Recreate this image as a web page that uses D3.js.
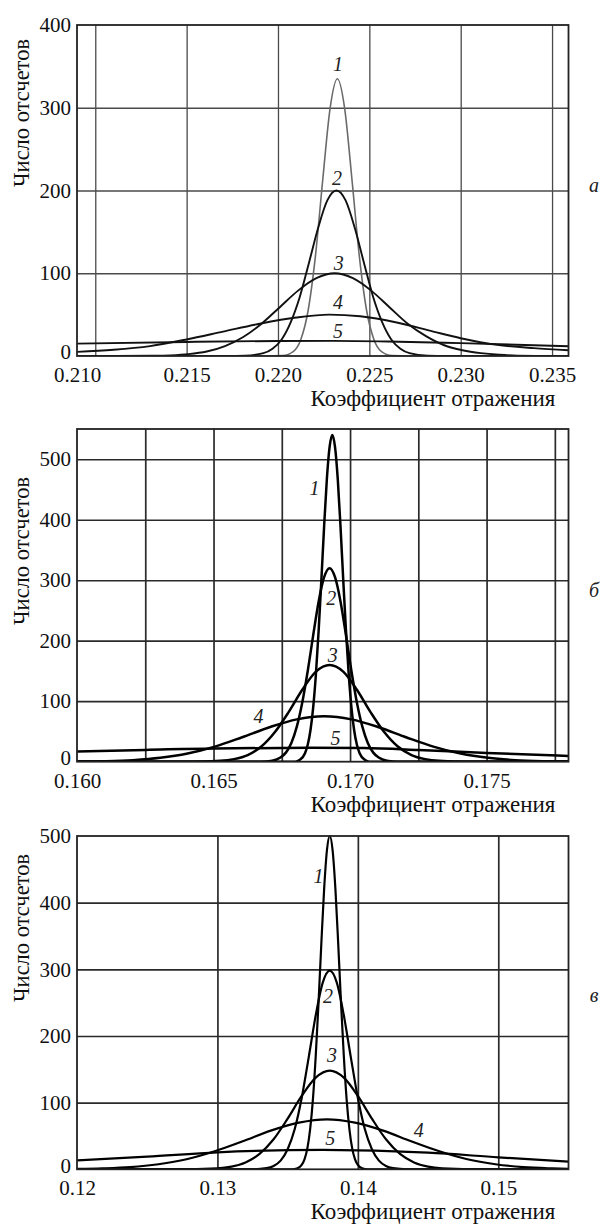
<!DOCTYPE html>
<html>
<head>
  <meta charset="utf-8">
  <title>Распределения коэффициента отражения</title>
  <script src="https://cdn.jsdelivr.net/npm/d3@7"></script>
  <style>
    body { margin: 0; background: #fff; }
    svg text { font-family: "Liberation Serif", "DejaVu Serif", "Noto Serif", "Tinos", serif !important; }
  </style>
</head>
<body>
<script>
// --- панель а ---
var a1 = [[0.2090,0],[0.2193,0],[0.22025,0.6],[0.22085,5.7],[0.22125,20],[0.22165,55],[0.22205,121],[0.22245,213],[0.22285,299],[0.22325,335],[0.22365,299],[0.22405,213],[0.22445,121],[0.22485,55],[0.22525,20],[0.22565,5.7],[0.22625,0.6],[0.2272,0],[0.2359,0]];
var a2 = [[0.2090,0],[0.2172,0],[0.2182,0.3],[0.2192,3.4],[0.2197,8.8],[0.2202,20],[0.2207,41],[0.2212,72],[0.2217,113],[0.2222,155],[0.2227,188],[0.2232,200],[0.2237,188],[0.2242,155],[0.2247,113],[0.2252,72],[0.2257,41],[0.2262,20],[0.2267,8.8],[0.2272,3.4],[0.2282,0.3],[0.2292,0],[0.2359,0]];
var a3 = [[0.2090,0],[0.2111,0],[0.2131,0.3],[0.2141,0.8],[0.2151,2.2],[0.2161,5.4],[0.2171,12],[0.2181,23],[0.2191,39],[0.2201,59],[0.2211,79],[0.2221,94],[0.2231,100],[0.2241,94],[0.2251,79],[0.2261,59],[0.2271,39],[0.2281,24],[0.2291,13],[0.2301,7],[0.2311,3.5],[0.2321,1.5],[0.2331,0.5],[0.2351,0],[0.2359,0]];
var a4 = [[0.2090,5],[0.2110,7.5],[0.2130,12],[0.2150,20],[0.2170,29.5],[0.2190,39],[0.2210,46.5],[0.2228,50],[0.2245,48],[0.2265,40.5],[0.2285,29.5],[0.2300,21.5],[0.2320,13.5],[0.2340,9.5],[0.2359,7]];
var a5 = [[0.2090,15],[0.2150,17],[0.2200,18.2],[0.2230,18.3],[0.2260,17.6],[0.2300,15.5],[0.2359,11.8]];
var xGridA = [0.210, 0.215, 0.220, 0.225, 0.230, 0.235];
var xTicksA = [0.210, 0.215, 0.220, 0.225, 0.230, 0.235];
var yTicksA = [0, 100, 200, 300, 400];
var labelsA = [["1",0.22329,344],["2",0.22323,207],["3",0.22332,104],["4",0.22329,56.5],["5",0.22329,21.4]];

// --- панель б ---
var b1 = [[0.160,0],[0.1680,0],[0.16815,2.8],[0.16835,14],[0.16845,28],[0.16855,52],[0.16865,90],[0.16875,145],[0.16885,217],[0.16895,301],[0.16905,389],[0.16915,467],[0.16925,520],[0.16935,540],[0.16945,520],[0.16955,467],[0.16965,389],[0.16975,301],[0.16985,217],[0.16995,145],[0.17005,90],[0.17015,52],[0.17025,28],[0.17035,14],[0.17055,2.8],[0.1707,0],[0.178,0]];
var b2 = [[0.160,0],[0.16675,0],[0.16715,1.7],[0.16745,7],[0.16765,15],[0.16785,31],[0.16805,58],[0.16825,98],[0.16845,150],[0.16865,209],[0.16885,265],[0.16905,305],[0.16925,320],[0.16945,305],[0.16965,265],[0.16985,209],[0.17005,150],[0.17025,98],[0.17045,58],[0.17065,31],[0.17085,15],[0.17105,7],[0.17135,1.7],[0.17175,0],[0.178,0]];
var b3 = [[0.160,0],[0.16425,0],[0.16525,1.4],[0.16575,4.3],[0.16625,11],[0.16675,25],[0.16725,49],[0.16775,82],[0.16825,119],[0.16875,149],[0.16925,160],[0.16975,149],[0.17025,119],[0.17075,82],[0.17125,49],[0.17175,25],[0.17225,11],[0.17275,4.3],[0.17325,1.4],[0.17425,0],[0.178,0]];
var b4 = [[0.1600,0.3],[0.16105,0.9],[0.16205,2.6],[0.16305,6.4],[0.16405,13.5],[0.16505,25],[0.16605,40.5],[0.16705,57],[0.16805,70],[0.16905,75],[0.17005,70],[0.17105,57],[0.17205,40.5],[0.17305,25],[0.17405,13.5],[0.17505,6.4],[0.17605,2.6],[0.17705,0.9],[0.1780,0.3]];
var b5 = [[0.160,17],[0.1625,19.5],[0.165,22],[0.1685,23],[0.1705,22.5],[0.1725,19.5],[0.175,14.5],[0.178,9.5]];
var xGridB = [0.1625, 0.165, 0.1675, 0.170, 0.1725, 0.175, 0.1775];
var xTicksB = [0.160, 0.165, 0.170, 0.175];
var yTicksB = [0, 100, 200, 300, 400, 500];
var labelsB = [["1",0.16870,441],["2",0.16931,259],["3",0.16937,165],["4",0.16665,63.5],["5",0.16947,27.6]];

// --- панель в ---
var c1 = [[0.120,0],[0.1353,0],[0.1357,1.6],[0.1360,6.6],[0.1362,15],[0.1364,31],[0.1366,60],[0.1368,105],[0.1370,170],[0.1372,250],[0.1374,339],[0.1376,421],[0.1378,479],[0.1380,500],[0.1382,479],[0.1384,421],[0.1386,339],[0.1388,250],[0.1390,170],[0.1392,105],[0.1394,60],[0.1396,31],[0.1398,15],[0.1400,6.6],[0.1403,1.6],[0.1407,0],[0.155,0]];
var c2 = [[0.120,0],[0.1325,0],[0.1335,1.7],[0.1340,5],[0.1345,13],[0.1350,30],[0.1355,60],[0.1360,107],[0.1365,168],[0.1370,231],[0.1375,280],[0.1380,298],[0.1385,280],[0.1390,231],[0.1395,168],[0.1400,107],[0.1405,60],[0.1410,30],[0.1415,13],[0.1420,5],[0.1425,1.7],[0.1435,0],[0.155,0]];
var c3 = [[0.120,0],[0.1280,0.1],[0.1300,1.3],[0.1310,3.9],[0.1320,10.3],[0.1330,23],[0.1340,45],[0.1350,76],[0.1360,110],[0.1370,137.5],[0.1380,148],[0.1390,137.5],[0.1400,110],[0.1410,76],[0.1420,45],[0.1430,23],[0.1440,10.3],[0.1450,3.9],[0.1460,1.3],[0.1480,0.1],[0.155,0]];
var c4 = [[0.1200,0.5],[0.1218,1.4],[0.1238,3.3],[0.1258,7.6],[0.1278,15],[0.1298,27],[0.1318,42],[0.1338,58],[0.1358,70],[0.1378,75],[0.1398,70],[0.1418,58],[0.1438,42],[0.1458,27],[0.1478,15],[0.1498,7.6],[0.1518,3.3],[0.1538,1.4],[0.1550,0.7]];
var c5 = [[0.120,13.5],[0.125,19],[0.130,25.5],[0.1375,29],[0.145,25],[0.150,18],[0.155,11.5]];
var xGridC = [0.13, 0.14, 0.15];
var xTicksC = [0.12, 0.13, 0.14, 0.15];
var yTicksC = [0, 100, 200, 300, 400, 500];
var labelsC = [["1",0.13720,429],["2",0.13787,249],["3",0.13815,161],["4",0.14433,49],["5",0.13803,36.4]];

var xTitle = "Коэффициент отражения";
var yTitle = "Число отсчетов";

var width = 600, height = 1227;
var left = 77, right = 568.5;
var serif = "'Liberation Serif', 'DejaVu Serif', 'Noto Serif', Tinos, serif";

var panels = [
  { top: 25, bottom: 356, xDomain: [0.2090, 0.2359], yMax: 400, fmt: ".3f",
    grid: xGridA, ticks: xTicksA, yTicks: yTicksA, curves: [a1, a2, a3, a4, a5], labels: labelsA,
    letter: "а", letterY: 192, yTitleC: 113, gridColor: "#4a4a4a", gridW: 1.3,
    colors: ["#6a6a6a", "#111", "#111", "#111", "#111"], widths: [1.6, 1.9, 1.9, 1.9, 1.9], firstAtEdge: true },
  { top: 429, bottom: 761.7, xDomain: [0.160, 0.178], yMax: 550, fmt: ".3f",
    grid: xGridB, ticks: xTicksB, yTicks: yTicksB, curves: [b1, b2, b3, b4, b5], labels: labelsB,
    letter: "б", letterY: 597, yTitleC: 551, gridColor: "#2a2a2a", gridW: 1.7,
    colors: ["#000", "#000", "#000", "#000", "#000"], widths: [2.5, 2.5, 2.5, 2.5, 2.5] },
  { top: 836, bottom: 1169.3, xDomain: [0.12, 0.155], yMax: 500, fmt: ".2f",
    grid: xGridC, ticks: xTicksC, yTicks: yTicksC, curves: [c1, c2, c3, c4, c5], labels: labelsC,
    letter: "в", letterY: 1002, yTitleC: 928, gridColor: "#2a2a2a", gridW: 1.7,
    colors: ["#000", "#000", "#000", "#000", "#000"], widths: [2.2, 2.2, 2.2, 2.2, 2.2] }
];

var svg = d3.select("body").append("svg").attr("width", width).attr("height", height)
  .attr("font-family", serif);

panels.forEach(function(p, i) {
  var x = d3.scaleLinear().domain(p.xDomain).range([left, right]);
  var y = d3.scaleLinear().domain([0, p.yMax]).range([p.bottom, p.top]);
  var g = svg.append("g");

  // сетка
  g.append("g")
    .attr("transform", "translate(0," + p.bottom + ")")
    .call(d3.axisBottom(x).tickValues(p.grid).tickSize(-(p.bottom - p.top)).tickFormat(""))
    .call(function(s) { s.select(".domain").remove(); })
    .selectAll("line").attr("stroke", p.gridColor).attr("stroke-width", p.gridW);
  g.append("g")
    .attr("transform", "translate(" + left + ",0)")
    .call(d3.axisLeft(y).tickValues(p.yTicks.filter(function(v) { return v > 0 && v < p.yMax; }))
      .tickSize(-(right - left)).tickFormat(""))
    .call(function(s) { s.select(".domain").remove(); })
    .selectAll("line").attr("stroke", p.gridColor).attr("stroke-width", p.gridW);

  // кривые
  var clipId = "clip" + i;
  svg.append("clipPath").attr("id", clipId)
    .append("rect").attr("x", left).attr("y", p.top - 2).attr("width", right - left).attr("height", p.bottom - p.top + 2);
  var line = d3.line()
    .x(function(d) { return x(d[0]); })
    .y(function(d) { return y(d[1]); })
    .curve(d3.curveMonotoneX);
  g.append("g").attr("clip-path", "url(#" + clipId + ")")
    .selectAll("path").data(p.curves).enter().append("path")
    .attr("d", line)
    .attr("fill", "none")
    .attr("stroke", function(d, k) { return p.colors[k]; })
    .attr("stroke-width", function(d, k) { return p.widths[k]; })
    .attr("stroke-linejoin", "round");

  // рамка
  g.append("rect")
    .attr("x", left).attr("y", p.top)
    .attr("width", right - left).attr("height", p.bottom - p.top)
    .attr("fill", "none").attr("stroke", "#222").attr("stroke-width", 1.8);

  // оси
  var ax = g.append("g")
    .attr("transform", "translate(0," + p.bottom + ")")
    .call(d3.axisBottom(x).tickValues(p.ticks).tickSize(0).tickPadding(11).tickFormat(d3.format(p.fmt)));
  ax.attr("font-family", serif).attr("font-size", 21);
  ax.select(".domain").remove();
  ax.selectAll("text").attr("fill", "#111");
  if (p.firstAtEdge) {
    ax.selectAll("text").filter(function(d, k) { return k === 0; })
      .attr("x", x(p.xDomain[0]) - x(p.ticks[0]));
  }

  var ay = g.append("g")
    .attr("transform", "translate(" + left + ",0)")
    .call(d3.axisLeft(y).tickValues(p.yTicks).tickSize(0).tickPadding(6));
  ay.attr("font-family", serif).attr("font-size", 21);
  ay.select(".domain").remove();
  ay.selectAll("text").attr("fill", "#111");
  // «0» чуть выше, чтобы не наезжать на подпись оси X
  ay.selectAll("text").filter(function(d) { return d === 0; }).attr("y", -4);

  // подписи осей
  g.append("text")
    .attr("x", 433).attr("y", p.bottom + 50)
    .attr("text-anchor", "middle").attr("font-size", "23px").attr("fill", "#111")
    .text(xTitle);
  g.append("text")
    .attr("transform", "rotate(-90)")
    .attr("x", -p.yTitleC).attr("y", 29)
    .attr("text-anchor", "middle").attr("font-size", "22.5px").attr("fill", "#111")
    .text(yTitle);

  // номера кривых
  g.selectAll(".num").data(p.labels).enter().append("text")
    .attr("x", function(d) { return x(d[1]); })
    .attr("y", function(d) { return y(d[2]); })
    .attr("text-anchor", "middle").attr("font-size", "20px").attr("font-style", "italic")
    .attr("fill", "#222")
    .text(function(d) { return d[0]; });

  // буква панели
  g.append("text")
    .attr("x", 594).attr("y", p.letterY)
    .attr("text-anchor", "middle").attr("font-size", "20px").attr("font-style", "italic")
    .attr("fill", "#222")
    .text(p.letter);
});
</script>
</body>
</html>
